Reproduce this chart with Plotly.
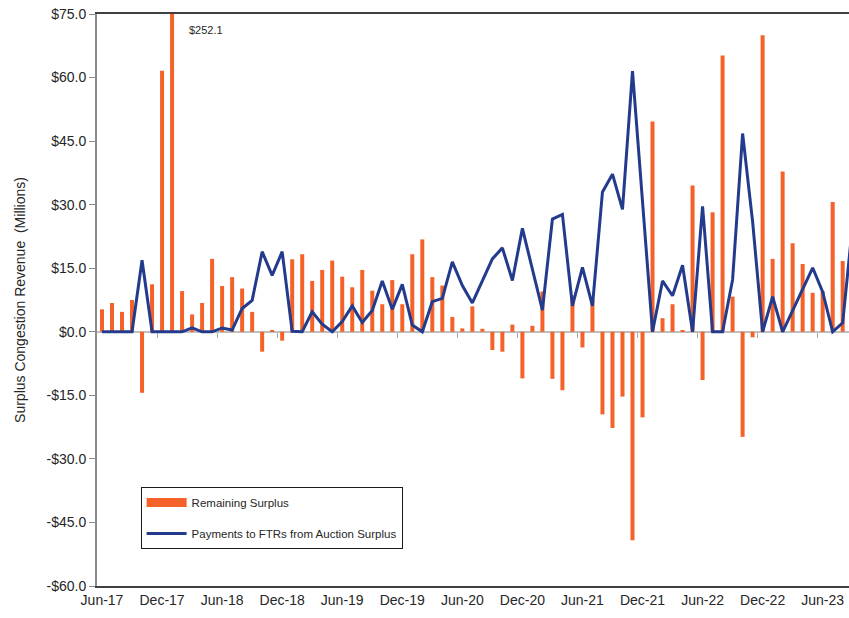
import plotly.graph_objects as go

months = ["Jun-17","Jul-17","Aug-17","Sep-17","Oct-17","Nov-17","Dec-17","Jan-18","Feb-18","Mar-18","Apr-18","May-18",
          "Jun-18","Jul-18","Aug-18","Sep-18","Oct-18","Nov-18","Dec-18","Jan-19","Feb-19","Mar-19","Apr-19","May-19",
          "Jun-19","Jul-19","Aug-19","Sep-19","Oct-19","Nov-19","Dec-19","Jan-20","Feb-20","Mar-20","Apr-20","May-20",
          "Jun-20","Jul-20","Aug-20","Sep-20","Oct-20","Nov-20","Dec-20","Jan-21","Feb-21","Mar-21","Apr-21","May-21",
          "Jun-21","Jul-21","Aug-21","Sep-21","Oct-21","Nov-21","Dec-21","Jan-22","Feb-22","Mar-22","Apr-22","May-22",
          "Jun-22","Jul-22","Aug-22","Sep-22","Oct-22","Nov-22","Dec-22","Jan-23","Feb-23","Mar-23","Apr-23","May-23",
          "Jun-23","Jul-23","Aug-23","Sep-23"]

remaining_surplus = [5.3, 6.8, 4.7, 7.5, -14.4, 11.2, 61.6, 252.1, 9.6, 4.1, 6.8, 17.2,
                     10.8, 12.9, 10.2, 4.7, -4.7, 0.4, -2.1, 17.1, 18.3, 12.0, 14.6, 16.8,
                     13.0, 10.5, 14.6, 9.7, 6.5, 12.2, 6.5, 18.3, 21.8, 12.9, 10.9, 3.5,
                     0.8, 6.0, 0.7, -4.3, -4.7, 1.7, -11.0, 1.4, 9.5, -11.1, -13.8, 8.6,
                     -3.7, 7.6, -19.5, -22.7, -15.3, -49.2, -20.2, 49.6, 3.2, 6.5, 0.3, 34.5,
                     -11.4, 28.2, 65.2, 8.3, -24.8, -1.3, 70.0, 17.2, 37.8, 20.9, 16.0, 9.2,
                     9.6, 30.6, 16.7, None]

ftr_payments = [0, 0, 0, 0, 16.9, 0, 0, 0, 0, 0.9, 0, 0,
                0.9, 0.4, 5.5, 7.4, 18.9, 13.3, 18.9, 0.1, 0, 4.7, 1.8, 0,
                2.4, 6.1, 2.2, 5.0, 12.0, 5.3, 11.2, 1.6, 0, 7.1, 7.9, 16.5,
                10.9, 6.8, 12.0, 17.2, 19.8, 12.1, 24.4, 14.6, 5.1, 26.6, 27.7, 6.1,
                15.2, 6.1, 33.0, 37.2, 28.9, 61.5, 31.0, 0, 12.0, 8.5, 15.7, 0,
                29.6, 0, 0, 12.3, 46.8, 26.0, 0, 8.3, 0, 5.0, 10.1, 15.1,
                9.4, 0, 2.1, 25.6]

y_ticks = [-60, -45, -30, -15, 0, 15, 30, 45, 60, 75]
y_tick_text = ["-$60.0", "-$45.0", "-$30.0", "-$15.0", "$0.0", "$15.0", "$30.0", "$45.0", "$60.0", "$75.0"]
label_every = 6

idx = list(range(len(months)))
x_tickvals = idx[::label_every]
x_ticktext = months[::label_every]
boundary_ticks = [i + 5.5 for i in idx[::label_every]]

ORANGE = "#F4622A"
NAVY = "#233B8C"
FONT = "Liberation Sans, Arial, sans-serif"

fig = go.Figure()
fig.add_trace(go.Bar(x=idx, y=remaining_surplus, name="Remaining Surplus",
                     marker=dict(color=ORANGE, line=dict(width=0)),
                     showlegend=False))
# legend-only entry so the swatch is a wide rectangle like the original
fig.add_trace(go.Scatter(x=[None], y=[None], mode="lines", name="Remaining Surplus",
                         line=dict(color=ORANGE, width=9), legendgroup="a", hoverinfo="skip"))
fig.add_trace(go.Scatter(x=idx, y=ftr_payments, mode="lines",
                         name="Payments to FTRs from Auction Surplus",
                         line=dict(color=NAVY, width=3), legendgroup="b"))
fig.add_trace(go.Scatter(x=[], y=[], xaxis="x2", showlegend=False, hoverinfo="skip"))

x_range = [-0.5, 74.63]
y_range = [-60, 75]
zero_pos = (0 - y_range[0]) / (y_range[1] - y_range[0])

fig.update_layout(
    width=849, height=618,
    margin=dict(l=97, r=0, t=14, b=32),
    paper_bgcolor="white", plot_bgcolor="white",
    font=dict(family=FONT, size=14, color="#262626"),
    bargap=0.6,
    showlegend=True,
    legend=dict(x=0.058, y=0.173, xanchor="left", yanchor="top",
                bordercolor="#1a1a1a", borderwidth=1, bgcolor="white",
                font=dict(size=11.5, family=FONT, color="#262626"),
                traceorder="grouped", tracegroupgap=12, itemwidth=40),
    xaxis=dict(range=x_range, tickmode="array", tickvals=x_tickvals, ticktext=x_ticktext,
               showgrid=False, zeroline=False, showline=True, linecolor="#404040", linewidth=2,
               mirror=True, ticks="", tickfont=dict(size=14), automargin=False),
    xaxis2=dict(range=x_range, overlaying="x", anchor="free", position=zero_pos,
                tickmode="array", tickvals=boundary_ticks, ticks="outside", ticklen=5,
                tickcolor="#A6A6A6", tickwidth=1, showticklabels=False, showline=False,
                showgrid=False, zeroline=False),
    yaxis=dict(range=y_range, tickmode="array", tickvals=y_ticks, ticktext=y_tick_text,
               showgrid=False, zeroline=True, zerolinecolor="#BFBFBF", zerolinewidth=2,
               showline=True, linecolor="#8C8C8C", linewidth=2,
               ticks="outside", ticklen=6, tickcolor="#8C8C8C", tickwidth=1,
               tickfont=dict(size=14), automargin=False,
               title=dict(text="Surplus Congestion Revenue  (Millions)", font=dict(size=14), standoff=18)),
)

fig.add_annotation(x=7, y=71.3, xref="x", yref="y", text="$252.1", showarrow=False,
                   xanchor="left", yanchor="middle", xshift=15,
                   font=dict(size=11, family=FONT, color="#262626"))

fig.write_html("out.html", config={"displayModeBar": False},
               post_script="document.body.style.margin='0';document.body.style.overflow='hidden';")
